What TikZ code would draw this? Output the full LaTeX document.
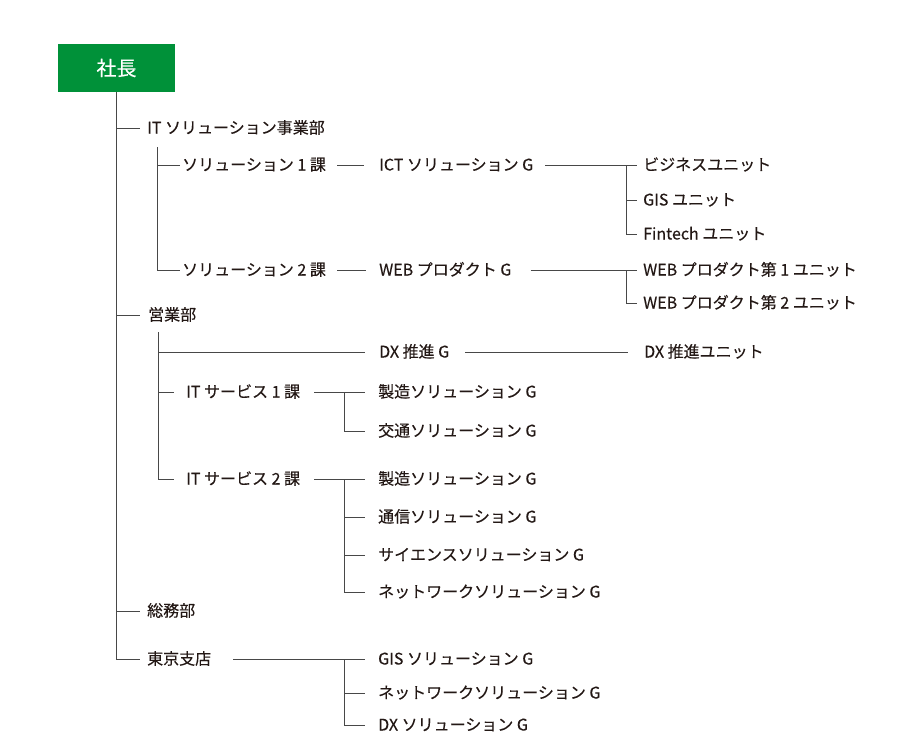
\documentclass[tikz,border=0pt]{standalone}
\usepackage{fontspec}
\setmainfont{Noto Sans CJK JP}[FakeBold=0.3]
\definecolor{pgreen}{HTML}{009139}
\definecolor{txt}{HTML}{231815}
\definecolor{lncol}{HTML}{484848}
\tikzset{
  lbl/.style={anchor=west,inner sep=0pt,text=txt,font=\fontsize{16}{18}\selectfont,text height=1.1em,text depth=0em},
  ln/.style={draw=lncol,line width=0.9pt},
  presbox/.style={fill=pgreen,text=white,minimum width=117pt,minimum height=48pt,inner sep=0pt,font=\fontsize{20}{22}\selectfont}
}
\begin{document}
\begin{tikzpicture}[x=1pt,y=-1pt]
\useasboundingbox (0,0) rectangle (900,750);
\node[presbox] (pres) at (116.5,68) {社長};
% level 1
\node[lbl] (it) at (147,128) {IT ソリューション事業部};
\node[lbl] (eigyo) at (148,315) {営業部};
\node[lbl] (somu) at (147,611) {総務部};
\node[lbl] (tokyo) at (147,659) {東京支店};
% IT division
\node[lbl] (s1) at (182,165) {ソリューション 1 課};
\node[lbl] (s2) at (182,270) {ソリューション 2 課};
\node[lbl] (ict) at (379,165) {ICT ソリューション G};
\node[lbl] (web) at (379,270) {WEB プロダクト G};
\node[lbl] (biz) at (643,165) {ビジネスユニット};
\node[lbl] (gis) at (643,200) {GIS ユニット};
\node[lbl] (fin) at (643,234) {Fintech ユニット};
\node[lbl] (web1) at (643,270) {WEB プロダクト第 1 ユニット};
\node[lbl] (web2) at (643,303) {WEB プロダクト第 2 ユニット};
% sales
\node[lbl] (dx) at (379,352) {DX 推進 G};
\node[lbl] (dxu) at (644,352) {DX 推進ユニット};
\node[lbl] (its1) at (186,392) {IT サービス 1 課};
\node[lbl] (m1) at (378,392) {製造ソリューション G};
\node[lbl] (k1) at (378,431) {交通ソリューション G};
\node[lbl] (its2) at (186,479) {IT サービス 2 課};
\node[lbl] (m2) at (378,479) {製造ソリューション G};
\node[lbl] (t2) at (378,517) {通信ソリューション G};
\node[lbl] (sc2) at (378,555) {サイエンスソリューション G};
\node[lbl] (nw2) at (378,592) {ネットワークソリューション G};
% tokyo
\node[lbl] (gis3) at (378,659) {GIS ソリューション G};
\node[lbl] (nw3) at (378,693) {ネットワークソリューション G};
\node[lbl] (dx3) at (378,725) {DX ソリューション G};
% coordinates
\coordinate (v2top) at (157,147);
\coordinate (v3top) at (158,332);
\coordinate (ja) at (626,0);
\coordinate (jb) at (344,0);
% main trunk
\draw[ln] (pres.south) -- (pres.south |- tokyo.west) -- ([xshift=-7pt]tokyo.west);
\draw[ln] (pres.south |- it.west) -- ([xshift=-7pt]it.west);
\draw[ln] (pres.south |- eigyo.west) -- ([xshift=-8pt]eigyo.west);
\draw[ln] (pres.south |- somu.west) -- ([xshift=-7pt]somu.west);
% IT division
\draw[ln] (v2top) -- (v2top |- s2.west) -- ([xshift=-2pt]s2.west);
\draw[ln] (v2top |- s1.west) -- ([xshift=-2pt]s1.west);
\draw[ln,shorten <=11pt,shorten >=15pt] (s1.east) -- (ict.west);
\draw[ln,shorten <=11pt,shorten >=13pt] (s2.east) -- (web.west);
\draw[ln,shorten <=12pt] (ict.east) -- ([xshift=-6pt]biz.west);
\draw[ln] (ja |- biz.west) -- (ja |- fin.west) -- ([xshift=-6pt]fin.west);
\draw[ln] (ja |- gis.west) -- ([xshift=-6pt]gis.west);
\draw[ln,shorten <=19pt] (web.east) -- ([xshift=-6pt]web1.west);
\draw[ln] (ja |- web1.west) -- (ja |- web2.west) -- ([xshift=-6pt]web2.west);
% sales
\draw[ln] (v3top) -- (v3top |- its2.west) -- ([xshift=-12pt]its2.west);
\draw[ln] (v3top |- its1.west) -- ([xshift=-12pt]its1.west);
\draw[ln] (v3top |- dx.west) -- ([xshift=-14pt]dx.west);
\draw[ln,shorten <=16pt] (dx.east) -- ([xshift=-16pt]dxu.west);
\draw[ln,shorten <=14pt] (its1.east) -- ([xshift=-13pt]m1.west);
\draw[ln] (jb |- m1.west) -- (jb |- k1.west) -- ([xshift=-13pt]k1.west);
\draw[ln,shorten <=14pt] (its2.east) -- ([xshift=-13pt]m2.west);
\draw[ln] (jb |- m2.west) -- (jb |- nw2.west) -- ([xshift=-13pt]nw2.west);
\draw[ln] (jb |- t2.west) -- ([xshift=-13pt]t2.west);
\draw[ln] (jb |- sc2.west) -- ([xshift=-13pt]sc2.west);
% tokyo
\draw[ln,shorten <=22pt] (tokyo.east) -- ([xshift=-13pt]gis3.west);
\draw[ln] (jb |- gis3.west) -- (jb |- dx3.west) -- ([xshift=-13pt]dx3.west);
\draw[ln] (jb |- nw3.west) -- ([xshift=-13pt]nw3.west);
\end{tikzpicture}
\end{document}
